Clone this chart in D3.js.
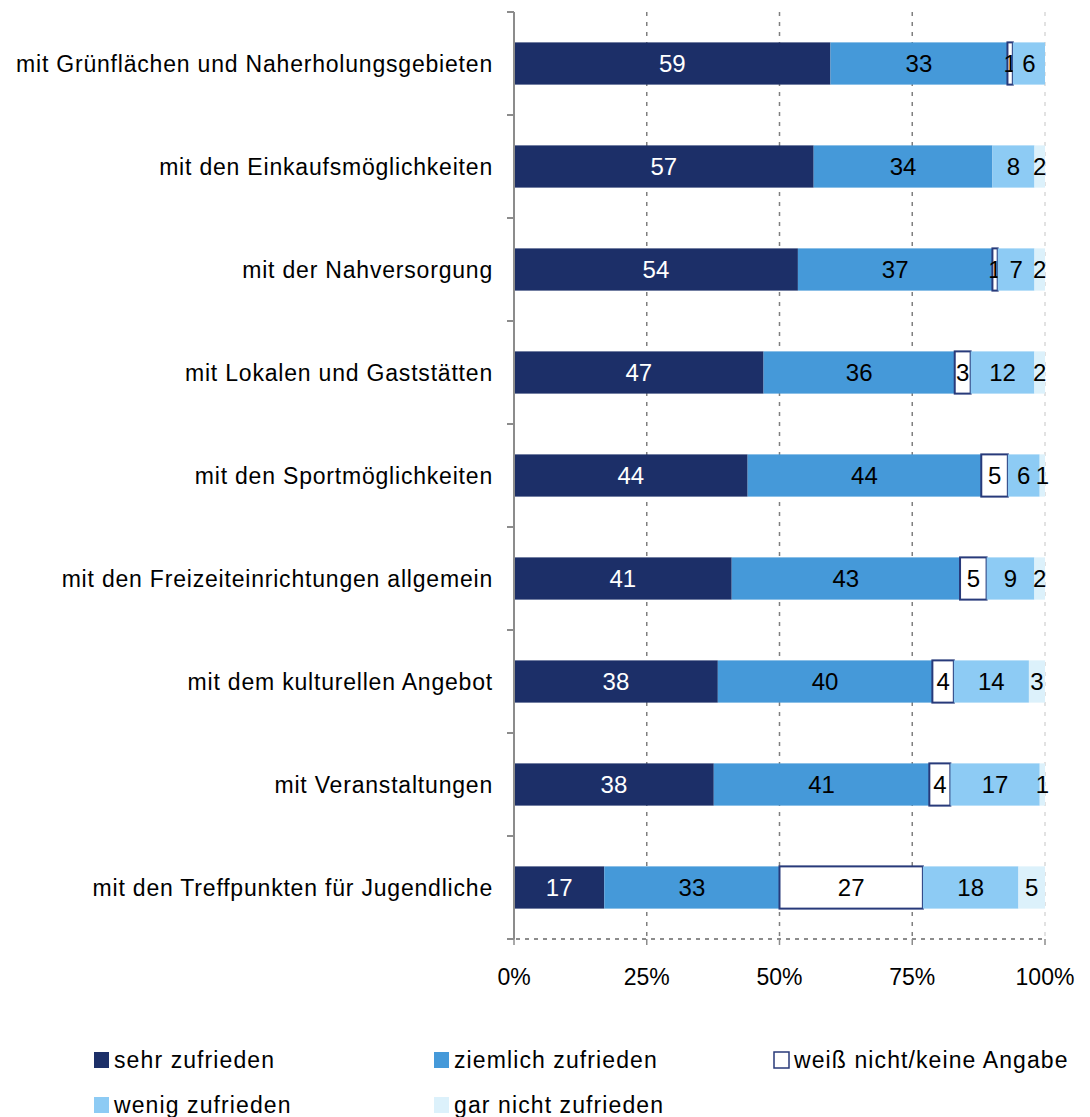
<!DOCTYPE html>
<html>
<head>
<meta charset="utf-8">
<script src="https://cdn.jsdelivr.net/npm/d3@7"></script>
<style>
  body { margin: 0; background: #fff; }
  svg { font-family: "Liberation Sans", Arial, sans-serif; }
</style>
</head>
<body>
<svg id="canvas" width="1090" height="1117"></svg>
<script>
// Kategorien (von oben nach unten)
let kategorien = [
  'mit Grünflächen und Naherholungsgebieten',
  'mit den Einkaufsmöglichkeiten',
  'mit der Nahversorgung',
  'mit Lokalen und Gaststätten',
  'mit den Sportmöglichkeiten',
  'mit den Freizeiteinrichtungen allgemein',
  'mit dem kulturellen Angebot',
  'mit Veranstaltungen',
  'mit den Treffpunkten für Jugendliche'
]

// Reihen (Prozentwerte)
let sehrZufrieden     = [59, 57, 54, 47, 44, 41, 38, 38, 17]
let ziemlichZufrieden = [33, 34, 37, 36, 44, 43, 40, 41, 33]
let weissNicht        = [ 1,  0,  1,  3,  5,  5,  4,  4, 27]
let wenigZufrieden    = [ 6,  8,  7, 12,  6,  9, 14, 17, 18]
let garNicht          = [ 0,  2,  2,  2,  1,  2,  3,  1,  5]

let reihenNamen = ['sehr zufrieden', 'ziemlich zufrieden', 'weiß  nicht/keine Angabe', 'wenig zufrieden', 'gar nicht zufrieden']
let reihenWerte = [sehrZufrieden, ziemlichZufrieden, weissNicht, wenigZufrieden, garNicht]
let farben = ['#1c2f68', '#4599d9', '#ffffff', '#8dcbf4', '#dcf1fb']
let textFarben = ['#ffffff', '#000000', '#000000', '#000000', '#000000']

let tickWerte = [0, 0.25, 0.5, 0.75, 1]

let canvas = d3.select('#canvas')

let links = 514, rechts = 1045, oben = 12, unten = 939

let x = d3.scaleLinear().domain([0, 1]).range([links, rechts])
let y = d3.scaleBand().domain(kategorien).range([oben, unten]).paddingInner(0.59).paddingOuter(0.295)

// Tabelle für d3.stack, normiert auf 100 %
let tabelle = kategorien.map((k, i) => {
  let zeile = { kategorie: k }
  let summe = d3.sum(reihenWerte, r => r[i])
  reihenNamen.forEach((n, j) => { zeile[n] = reihenWerte[j][i] / summe; zeile[n + '_roh'] = reihenWerte[j][i] })
  return zeile
})

let stapel = d3.stack().keys(reihenNamen)(tabelle)

// Gitterlinien
canvas.append('g')
  .selectAll('line')
  .data(tickWerte.slice(1))
  .enter()
  .append('line')
  .attr('x1', d => x(d)).attr('x2', d => x(d))
  .attr('y1', oben).attr('y2', unten)
  .attr('stroke', d => d === 1 ? '#d9d9d9' : '#7f7f7f')
  .attr('stroke-width', 1.5)
  .attr('stroke-dasharray', '4,6')

// Balken
let gruppen = canvas.append('g')
  .selectAll('g')
  .data(stapel)
  .enter()
  .append('g')

gruppen.selectAll('rect')
  .data((d, j) => d.map(s => ({ s: s, j: j })))
  .enter()
  .append('rect')
  .attr('x', d => x(d.s[0]))
  .attr('y', d => y(d.s.data.kategorie))
  .attr('width', d => Math.max(0, x(d.s[1]) - x(d.s[0])))
  .attr('height', y.bandwidth())
  .attr('fill', d => farben[d.j])
  .attr('stroke', d => d.j === 2 && d.s[1] > d.s[0] ? '#283a7a' : 'none')
  .attr('stroke-width', 2)

gruppen.selectAll('text')
  .data((d, j) => d.map(s => ({ s: s, j: j })).filter(d => d.s.data[reihenNamen[d.j] + '_roh'] > 0))
  .enter()
  .append('text')
  .attr('x', d => (x(d.s[0]) + x(d.s[1])) / 2)
  .attr('y', d => y(d.s.data.kategorie) + y.bandwidth() / 2)
  .attr('dy', '0.36em')
  .attr('text-anchor', 'middle')
  .attr('font-size', 24)
  .attr('fill', d => textFarben[d.j])
  .text(d => d.s.data[reihenNamen[d.j] + '_roh'])

// y-Achse
let yAchse = canvas.append('g')
yAchse.append('line')
  .attr('x1', links).attr('x2', links).attr('y1', oben).attr('y2', unten)
  .attr('stroke', '#8c8c8c').attr('stroke-width', 2)
let grenzen = d3.range(kategorien.length + 1).map(i => oben + i * (unten - oben) / kategorien.length)
yAchse.selectAll('line.tick')
  .data(grenzen)
  .enter()
  .append('line')
  .attr('class', 'tick')
  .attr('x1', links - 7).attr('x2', links)
  .attr('y1', d => d).attr('y2', d => d)
  .attr('stroke', '#8c8c8c').attr('stroke-width', 2)
yAchse.selectAll('text')
  .data(kategorien)
  .enter()
  .append('text')
  .attr('x', links - 21)
  .attr('y', d => y(d) + y.bandwidth() / 2)
  .attr('dy', '0.36em')
  .attr('text-anchor', 'end')
  .attr('font-size', 23)
  .attr('letter-spacing', 0.8)
  .attr('fill', '#000')
  .text(d => d)

// x-Achse
let xAchse = canvas.append('g')
xAchse.append('line')
  .attr('x1', links - 7).attr('x2', rechts).attr('y1', unten).attr('y2', unten)
  .attr('stroke', '#8c8c8c').attr('stroke-width', 2).attr('stroke-dasharray', '4,5')
xAchse.selectAll('line.tick')
  .data(tickWerte)
  .enter()
  .append('line')
  .attr('class', 'tick')
  .attr('x1', d => x(d)).attr('x2', d => x(d))
  .attr('y1', unten).attr('y2', unten + 6)
  .attr('stroke', '#8c8c8c').attr('stroke-width', 1.5)
xAchse.selectAll('text')
  .data(tickWerte)
  .enter()
  .append('text')
  .attr('x', d => x(d))
  .attr('y', 977)
  .attr('dy', '0.36em')
  .attr('text-anchor', 'middle')
  .attr('font-size', 23)
  .attr('fill', '#000')
  .text(d => d3.format('.0%')(d))

// Legende
let legendePos = [[94, 1060], [434, 1060], [774, 1060], [94, 1105], [434, 1105]]
let legende = canvas.append('g')
  .selectAll('g')
  .data(reihenNamen)
  .enter()
  .append('g')
  .attr('transform', (d, i) => 'translate(' + legendePos[i][0] + ',' + legendePos[i][1] + ')')
legende.append('rect')
  .attr('x', 0).attr('y', -8).attr('width', 15).attr('height', 16)
  .attr('fill', (d, i) => farben[i])
  .attr('stroke', (d, i) => i === 2 ? '#283a7a' : 'none')
  .attr('stroke-width', 1.5)
legende.append('text')
  .attr('x', 20)
  .attr('dy', '0.36em')
  .attr('font-size', 23)
  .attr('letter-spacing', 1.1)
  .attr('fill', '#000')
  .text(d => d)
</script>
</body>
</html>
